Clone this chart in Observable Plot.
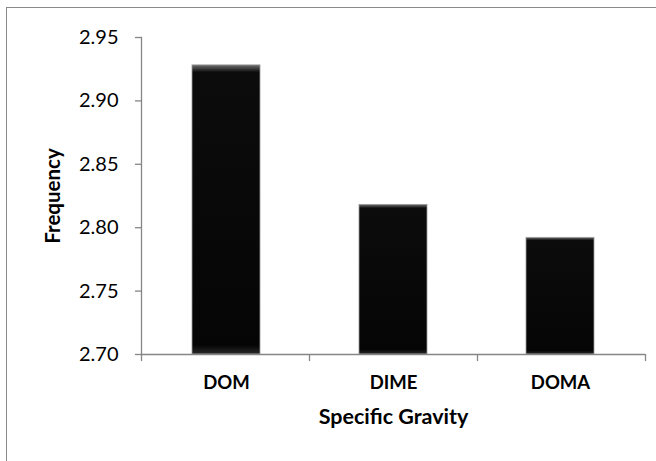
<!DOCTYPE html>
<html><head><meta charset="utf-8">
<script src="https://cdn.jsdelivr.net/npm/d3@7"></script>
<script src="https://cdn.jsdelivr.net/npm/@observablehq/plot@0.6"></script>
<style>
html,body{margin:0;padding:0;background:#fff;overflow:hidden}
#wrap{position:relative;width:656px;height:461px;overflow:hidden}
#border{position:absolute;left:6px;top:7px;width:700px;height:500px;border-top:1px solid #8a8a8a;border-left:1px solid #8a8a8a}
#chart{position:absolute;left:0;top:0}
</style></head><body>
<div id="wrap"><div id="border"></div><div id="chart"></div></div>
<script>
const categories = ["DOM", "DIME", "DOMA"];
const values = [2.928, 2.818, 2.792];
const yTicks = [2.70, 2.75, 2.80, 2.85, 2.90, 2.95];
const yDomain = [2.70, 2.95];
const xLabel = "Specific Gravity";
const yLabel = "Frequency";

const data = categories.map((c, i) => ({cat: c, value: values[i]}));
const axisColor = "#868686";
const font = "Lato, 'Open Sans', sans-serif";

// gradient definition for a subtle bevel on the bars
const defs = () => {
  const svg = d3.create("svg:defs");
  const lg = svg.append("linearGradient").attr("id", "bevel").attr("x1", 0).attr("x2", 0).attr("y1", 0).attr("y2", 1);
  lg.append("stop").attr("offset", "0%").attr("stop-color", "#707070");
  lg.append("stop").attr("offset", "2.5%").attr("stop-color", "#0c0c0c");
  lg.append("stop").attr("offset", "97%").attr("stop-color", "#050505");
  lg.append("stop").attr("offset", "100%").attr("stop-color", "#2a2a2a");
  return svg.node();
};

// category boundary ticks on the x axis (Excel-style, between categories)
const bandTicks = (index, scales, vals, dims) => {
  const g = d3.create("svg:g").attr("stroke", axisColor).attr("stroke-width", 1.3);
  const x0 = dims.marginLeft, x1 = dims.width - dims.marginRight;
  const y0 = dims.height - dims.marginBottom;
  const n = categories.length;
  for (let i = 0; i <= n; i++) {
    const x = Math.round(x0 + (x1 - x0) * i / n) + 0.5;
    g.append("line").attr("x1", x).attr("x2", x).attr("y1", y0).attr("y2", y0 + 7);
  }
  return g.node();
};

const chart = Plot.plot({
  width: 656,
  height: 461,
  marginLeft: 141,
  marginRight: 11,
  marginTop: 37,
  marginBottom: 107,
  style: {fontFamily: font, background: "transparent", overflow: "visible"},
  x: {domain: categories, paddingInner: 0.595, paddingOuter: 0.2976},
  y: {domain: yDomain},
  marks: [
    defs,
    Plot.barY(data, {x: "cat", y1: yDomain[0], y2: "value", fill: "url(#bevel)", stroke: "#9a9a9a", strokeWidth: 0.8}),
    Plot.frame({anchor: "left", stroke: axisColor, strokeWidth: 1.3}),
    Plot.ruleY([yDomain[0]], {stroke: axisColor, strokeWidth: 1.3}),
    Plot.axisY({ticks: yTicks, tickFormat: d3.format(".2f"), tickSize: 6, tickPadding: 17, stroke: axisColor, strokeWidth: 1.3, fill: "#000", fontSize: 20, label: null}),
    Plot.axisX({tickSize: 0, tickPadding: 21, fontSize: 18.5, fontWeight: "bold", fill: "#000", label: null}),
    bandTicks,
    Plot.text([xLabel], {frameAnchor: "bottom", lineAnchor: "top", dy: 54, fontSize: 21.5, fontWeight: "bold", fill: "#000"}),
    Plot.text([yLabel], {frameAnchor: "left", textAnchor: "middle", rotate: -90, dx: -88, fontSize: 20.5, fontWeight: "bold", fill: "#000"})
  ]
});
document.getElementById("chart").append(chart);
</script>
</body></html>
